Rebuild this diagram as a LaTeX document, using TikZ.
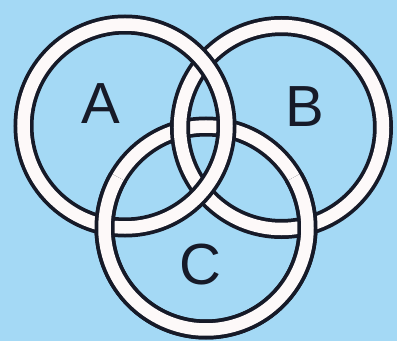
\documentclass[tikz,border=0pt]{standalone}
\usepackage{fontspec}
\setmainfont{Liberation Sans}
\usetikzlibrary{positioning}
\definecolor{RingSky}{RGB}{164,217,245}
\definecolor{RingEdge}{RGB}{22,26,40}
\definecolor{RingFill}{RGB}{253,249,249}

\begin{document}
\begin{tikzpicture}[
    x=1pt, y=1pt,
    edge/.style={draw=RingEdge, line width=20pt},
    band/.style={draw=RingFill, line width=12.5pt},
    lbl/.style={inner sep=0pt, text=RingEdge, font=\fontsize{58}{60}\selectfont}
]
    \fill[RingSky] (0,0) rectangle (397,341);
    \useasboundingbox (0,0) rectangle (397,341);
    \coordinate (ringA) at (125,215);
    \coordinate (ringB) at (281.5,213.5);
    \coordinate (ringC) at (206,113);
    \foreach \c in {ringC,ringB,ringA} {
        \path[edge] (\c) circle[radius=101.5];
        \path[band] (\c) circle[radius=101.5];
    }
    \path[edge] (ringC) ++(150:101.5) arc[start angle=150, end angle=390, radius=101.5];
    \path[band] (ringC) ++(150:101.5) arc[start angle=150, end angle=390, radius=101.5];
    \node[lbl] (labA) at (101,237) {A};
    \node[lbl] (labB) at (305,234) {B};
    \node[lbl] (labC) at (200,76) {C};
\end{tikzpicture}
\end{document}
